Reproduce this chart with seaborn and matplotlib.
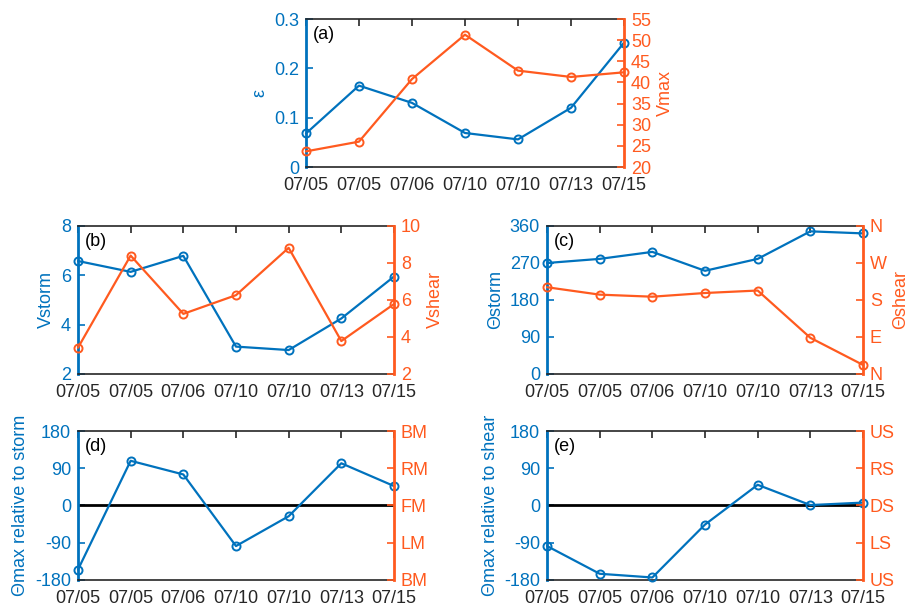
import matplotlib
matplotlib.use("Agg")
import matplotlib.pyplot as plt
import seaborn as sns

# Observation dates (categorical x positions)
dates = ["07/05", "07/05", "07/06", "07/10", "07/10", "07/13", "07/15"]

# (a) asymmetry and intensity
epsilon = [0.068, 0.165, 0.130, 0.069, 0.056, 0.120, 0.252]
vmax = [23.7, 26.0, 40.8, 51.3, 42.8, 41.3, 42.4]

# (b) storm motion speed and shear magnitude
vstorm = [6.58, 6.14, 6.79, 3.11, 2.97, 4.25, 5.95]
vshear = [3.42, 8.40, 5.25, 6.26, 8.82, 3.78, 5.78]

# (c) storm motion direction and shear direction
theta_storm = [270, 280, 297, 251, 280, 347, 342]
theta_shear = [211, 193, 188, 197, 203, 88, 22]

# (d), (e) location of maximum relative to motion / shear
theta_rel_storm = [-155, 108, 75, -98, -26, 102, 47]
theta_rel_shear = [-98, -165, -174, -46, 50, 1, 7]

compass_labels = ["N", "E", "S", "W", "N"]
motion_labels = ["BM", "LM", "FM", "RM", "BM"]
shear_labels = ["US", "LS", "DS", "RS", "US"]

BLUE = "#0072BD"
ORANGE = "#FF5A1F"
DARK = "#262626"
FS = 13

sns.set_style("white")
plt.rcParams["font.family"] = ["Liberation Sans", "DejaVu Sans"]
plt.rcParams["font.size"] = FS
plt.rcParams["axes.unicode_minus"] = False

fig = plt.figure(figsize=(9.12, 6.08), dpi=100)

W = 0.3465
H = 0.2434
positions = {
    "a": [0.3355, 0.7253, 0.3487, H],
    "b": [0.0855, 0.3849, W, H],
    "c": [0.5998, 0.3849, W, H],
    "d": [0.0855, 0.0461, W, 0.245],
    "e": [0.5998, 0.0461, W, 0.245],
}

xs = list(range(len(dates)))


def line_kw(color):
    return dict(color=color, marker="o", markerfacecolor="none",
                markeredgecolor=color, markersize=5.8,
                markeredgewidth=1.4, linewidth=1.6, clip_on=False)


def style_pair(ax, ax2, tag):
    ax.set_xlim(0, len(dates) - 1)
    ax.set_xticks(xs)
    ax.set_xticklabels(dates)
    for s in ["top", "bottom"]:
        ax.spines[s].set_color(DARK)
        ax.spines[s].set_linewidth(1.2)
    ax.spines["right"].set_visible(False)
    ax.spines["left"].set_color(BLUE)
    ax.spines["left"].set_linewidth(2.0)
    for s in ["top", "bottom", "left"]:
        ax2.spines[s].set_visible(False)
    ax2.spines["right"].set_color(ORANGE)
    ax2.spines["right"].set_linewidth(2.0)
    ax.tick_params(axis="x", direction="in", top=True, length=5, pad=7,
                   colors=DARK, labelsize=FS, width=1.2)
    ax.tick_params(axis="y", direction="in", length=5, colors=BLUE, pad=5,
                   labelsize=FS, width=1.2, left=True)
    ax2.tick_params(axis="y", direction="in", length=5, colors=ORANGE,
                    pad=5, labelsize=FS, width=1.2, right=True)
    ax.yaxis.label.set_color(BLUE)
    ax2.yaxis.label.set_color(ORANGE)
    ax.text(0.022, 0.95, f"({tag})", transform=ax.transAxes,
            ha="left", va="top", fontsize=FS, color="black")


# (a)
ax = fig.add_axes(positions["a"])
ax2 = ax.twinx()
sns.lineplot(x=xs, y=epsilon, ax=ax, **line_kw(BLUE))
sns.lineplot(x=xs, y=vmax, ax=ax2, **line_kw(ORANGE))
ax.set_ylim(0, 0.3)
ax.set_yticks([0, 0.1, 0.2, 0.3])
ax.set_yticklabels(["0", "0.1", "0.2", "0.3"])
ax2.set_ylim(20, 55)
ax2.set_yticks(range(20, 56, 5))
ax.set_ylabel("ε", fontsize=FS)
ax2.set_ylabel("Vmax", fontsize=FS)
style_pair(ax, ax2, "a")

# (b)
ax = fig.add_axes(positions["b"])
ax2 = ax.twinx()
sns.lineplot(x=xs, y=vstorm, ax=ax, **line_kw(BLUE))
sns.lineplot(x=xs, y=vshear, ax=ax2, **line_kw(ORANGE))
ax.set_ylim(2, 8)
ax.set_yticks([2, 4, 6, 8])
ax2.set_ylim(2, 10)
ax2.set_yticks([2, 4, 6, 8, 10])
ax.set_ylabel("Vstorm", fontsize=FS)
ax2.set_ylabel("Vshear", fontsize=FS)
style_pair(ax, ax2, "b")

# (c)
ax = fig.add_axes(positions["c"])
ax2 = ax.twinx()
sns.lineplot(x=xs, y=theta_storm, ax=ax, **line_kw(BLUE))
sns.lineplot(x=xs, y=theta_shear, ax=ax2, **line_kw(ORANGE))
ax.set_ylim(0, 360)
ax.set_yticks([0, 90, 180, 270, 360])
ax2.set_ylim(0, 360)
ax2.set_yticks([0, 90, 180, 270, 360])
ax2.set_yticklabels(compass_labels)
ax.set_ylabel("Θstorm", fontsize=FS)
ax2.set_ylabel("Θshear", fontsize=FS)
style_pair(ax, ax2, "c")

# (d) and (e)
for key, vals, right_labels, name in [
    ("d", theta_rel_storm, motion_labels, "Θmax relative to storm"),
    ("e", theta_rel_shear, shear_labels, "Θmax relative to shear"),
]:
    ax = fig.add_axes(positions[key])
    ax2 = ax.twinx()
    ax.axhline(0, color="black", linewidth=2.0, zorder=1)
    sns.lineplot(x=xs, y=vals, ax=ax, zorder=3, **line_kw(BLUE))
    ax.set_ylim(-180, 180)
    ax.set_yticks([-180, -90, 0, 90, 180])
    ax2.set_ylim(-180, 180)
    ax2.set_yticks([-180, -90, 0, 90, 180])
    ax2.set_yticklabels(right_labels)
    ax.set_ylabel(name, fontsize=FS)
    style_pair(ax, ax2, key)

fig.savefig("out.png", dpi=100)
